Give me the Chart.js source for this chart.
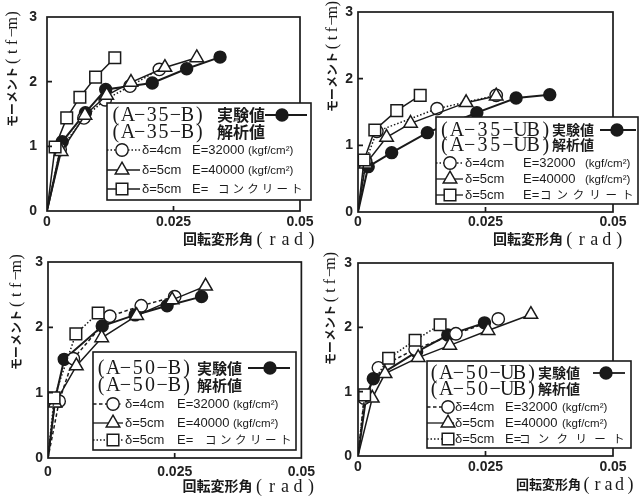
<!DOCTYPE html>
<html>
<head>
<meta charset="utf-8">
<script src="https://cdn.jsdelivr.net/npm/chart.js@4/dist/chart.umd.min.js"></script>
<style>
  html, body { margin: 0; padding: 0; background: #fff; }
  #wrap { position: relative; width: 643px; height: 496px; overflow: hidden; background: #fff; }
  #wrap canvas { position: absolute; }
</style>
</head>
<body>
<div id="wrap">
  <canvas id="c1" width="322" height="250" style="left:0;top:0"></canvas>
  <canvas id="c2" width="321" height="250" style="left:322px;top:0"></canvas>
  <canvas id="c3" width="322" height="246" style="left:0;top:250px"></canvas>
  <canvas id="c4" width="321" height="246" style="left:322px;top:250px"></canvas>
</div>
<script>
// ---- axis ticks and texts ----
const xTickValues = [0, 0.025, 0.05];
const yTickValues = [0, 1, 2, 3];
const xTitleText = ['回転変形角', '(rad)'];
const yTitleText = ['モーメント', '(tf−m)'];
const specimenNames = ['A−35−B', 'A−35−UB', 'A−50−B', 'A−50−UB'];
const seriesNames = ['実験値', '解析値'];
const caseDelta = ['δ=4cm', 'δ=5cm', 'δ=5cm'];
const caseModulus = ['E=32000', 'E=40000', 'E='];
const caseUnit = ['(kgf/cm²)', '(kgf/cm²)', 'コンクリート'];

// ---- moment vs rotation [rad, tf-m] ----
// A-35-B
const a35bExp = [[0,0],[0.0030,1.07],[0.0076,1.52],[0.0116,1.88],[0.0208,1.98],[0.0276,2.20],[0.0342,2.38]];
const a35bD4  = [[0,0],[0.0026,0.95],[0.0073,1.44],[0.0115,1.72],[0.0164,1.93],[0.0222,2.19]];
const a35bD5  = [[0,0],[0.0028,0.92],[0.0075,1.48],[0.0118,1.79],[0.0166,1.99],[0.0233,2.22],[0.0296,2.37]];
const a35bCon = [[0,0],[0.0016,0.99],[0.0039,1.44],[0.0065,1.76],[0.0096,2.07],[0.0134,2.37]];
// A-35-UB
const a35ubExp = [[0,0],[0.0020,0.68],[0.0066,0.89],[0.0136,1.19],[0.0233,1.49],[0.0310,1.71],[0.0376,1.76]];
const a35ubD4  = [[0,0],[0.0015,0.76],[0.0037,1.21],[0.0155,1.55],[0.0271,1.75]];
const a35ubD5  = [[0,0],[0.0015,0.72],[0.0056,1.12],[0.0103,1.33],[0.0212,1.64],[0.0271,1.74]];
const a35ubCon = [[0,0],[0.0012,0.78],[0.0033,1.23],[0.0076,1.52],[0.0122,1.75]];
// A-50-B
const a50bExp = [[0,0],[0.0014,0.90],[0.0032,1.51],[0.0107,2.02],[0.0172,2.19],[0.0235,2.33],[0.0303,2.47]];
const a50bD4  = [[0,0],[0.0022,0.87],[0.0050,1.52],[0.0122,2.17],[0.0184,2.33],[0.0250,2.47]];
const a50bD5  = [[0,0],[0.0014,0.84],[0.0056,1.41],[0.0106,1.84],[0.0175,2.18],[0.0245,2.42],[0.0311,2.63]];
const a50bCon = [[0,0],[0.0012,0.92],[0.0055,1.90],[0.0099,2.22]];
// A-50-UB
const a50ubExp = [[0,0],[0.0016,0.92],[0.0030,1.20],[0.0115,1.62],[0.0176,1.88],[0.0248,2.07]];
const a50ubD4  = [[0,0],[0.0012,0.90],[0.0040,1.37],[0.0112,1.66],[0.0192,1.90],[0.0275,2.13]];
const a50ubD5  = [[0,0],[0.0028,0.90],[0.0053,1.28],[0.0118,1.53],[0.0180,1.72],[0.0255,1.95],[0.0339,2.20]];
const a50ubCon = [[0,0],[0.0013,0.95],[0.0060,1.52],[0.0112,1.80],[0.0161,2.04]];

// ---- drawing styles ----
const INK = '#1a1a1a';
const CJK = '"Noto Sans CJK JP", sans-serif';
const SERIF = '"Liberation Serif", serif';
const SANS = '"Liberation Sans", Arial, sans-serif';
const DASH = { solid: [], dot: [1.5, 2], dash: [3.5, 2.5] };

// marker look of the four series: experiment, δ=4cm, δ=5cm, concrete
const seriesLook = [
  { pointStyle: 'circle',   radius: 5.8, fill: INK,    width: 1.8 },
  { pointStyle: 'circle',   radius: 6.2, fill: '#fff', width: 1.4 },
  { pointStyle: 'triangle', radius: 7.8, fill: '#fff', width: 1.5 },
  { pointStyle: 'rect',     radius: 8.2, fill: '#fff', width: 1.5 }
];

// panel layout: chart area, tick label offsets, legend geometry, title offsets
const panels = [
  { canvas: 'c1', sets: [a35bExp, a35bD4, a35bD5, a35bCon], dashes: ['solid', 'dot', 'solid', 'solid'],
    area: { left: 47, top: 11, right: 22, xh: 39 }, xPad: 4, yPad: 10,
    box: { x: 107, y: 103, w: 204, h: 97, rows: [12, 29, 47, 67, 86], headX: 3, pitch: 11.9, headFont: 20,
           cjkX: 110, cjkFont: 16, expLine: [158, 200], expMark: 175, lineEnd: 33, markX: 15,
           textX: 35, eX: 85, unitX: 141, kataX: 111, kataPitch: 14.6 },
    yTitle: { dx: -35, dy: 110, pitch: 9.5 }, xTitle: { dx: -117, dy: 28, cjk: 14, pitch: 13 } },
  { canvas: 'c2', sets: [a35ubExp, a35ubD4, a35ubD5, a35ubCon], dashes: ['solid', 'dot', 'solid', 'solid'],
    area: { left: 36, top: 12, right: 30, xh: 38 }, xPad: 3, yPad: 5,
    box: { x: 114, y: 117, w: 202, h: 87, rows: [13, 28, 46, 62, 78], headX: 2, pitch: 12.7, headFont: 20,
           cjkX: 116, cjkFont: 14, expLine: [164, 200], expMark: 181, lineEnd: 27, markX: 14,
           textX: 29, eX: 87, unitX: 149, kataX: 104, kataPitch: 16.4 },
    yTitle: { dx: -26, dy: 100, pitch: 8.6 }, xTitle: { dx: -120, dy: 27, cjk: 14, pitch: 12.5 } },
  { canvas: 'c3', sets: [a50bExp, a50bD4, a50bD5, a50bCon], dashes: ['solid', 'dash', 'solid', 'dot'],
    area: { left: 48, top: 10, right: 20, xh: 38 }, xPad: 7, yPad: 5,
    box: { x: 93, y: 102, w: 203, h: 98, rows: [16, 33, 52, 71, 88], headX: 2, pitch: 12.2, headFont: 20,
           cjkX: 104, cjkFont: 15, expLine: [155, 197], expMark: 177, lineEnd: 30, markX: 20,
           textX: 32, eX: 84, unitX: 140, kataX: 112, kataPitch: 15 },
    yTitle: { dx: -32, dy: 108, pitch: 9.5 }, xTitle: { dx: -119, dy: 28, cjk: 14, pitch: 13 } },
  { canvas: 'c4', sets: [a50ubExp, a50ubD4, a50ubD5, a50ubCon], dashes: ['solid', 'dash', 'solid', 'dot'],
    area: { left: 36, top: 8, right: 30, xh: 40 }, xPad: 4, yPad: 6,
    box: { x: 105, y: 111, w: 204, h: 87, rows: [12, 28, 46, 62, 78], headX: 1, pitch: 12.2, headFont: 20,
           cjkX: 111, cjkFont: 14, expLine: [166, 198], expMark: 179, lineEnd: 27, markX: 21,
           textX: 28, eX: 78, unitX: 135, kataX: 92, kataPitch: 18.8 },
    yTitle: { dx: -28, dy: 102, pitch: 9 }, xTitle: { dx: -97, dy: 28, cjk: 13, pitch: 11 } }
];

// draws text one glyph per fixed-width cell
function drawPitched(ctx, text, x, y, pitch) {
  ctx.textAlign = 'center';
  [...text].forEach((ch, i) => ctx.fillText(ch, x + pitch * (i + 0.5), y));
}

function drawMarker(ctx, look, x, y) {
  ctx.setLineDash([]);
  ctx.fillStyle = look.fill;
  ctx.strokeStyle = INK;
  ctx.lineWidth = look.width;
  Chart.helpers.drawPoint(ctx, { pointStyle: look.pointStyle, radius: look.radius, rotation: 0, borderWidth: look.width }, x, y);
}

function sampleLine(ctx, x1, x2, y, dash, width) {
  ctx.setLineDash(DASH[dash]);
  ctx.strokeStyle = INK;
  ctx.lineWidth = width;
  ctx.beginPath(); ctx.moveTo(x1, y); ctx.lineTo(x2, y); ctx.stroke();
}

// frame, inner ticks, legend box and axis titles
const panelDeco = {
  id: 'panelDeco',
  afterDatasetsDraw(chart, args, opts) {
    const { ctx, chartArea: a, scales: { x, y } } = chart;
    const p = opts.panel, b = p.box, name = '(' + specimenNames[opts.index] + ')';
    ctx.save();

    ctx.strokeStyle = INK; ctx.lineWidth = 1.7; ctx.setLineDash([]);
    ctx.strokeRect(a.left, a.top, a.right - a.left, a.bottom - a.top);
    ctx.beginPath();
    x.ticks.forEach(t => {
      if (t.value > x.min && t.value < x.max) {
        const px = x.getPixelForValue(t.value);
        ctx.moveTo(px, a.bottom); ctx.lineTo(px, a.bottom - 5);
      }
    });
    y.ticks.forEach(t => {
      if (t.value > y.min && t.value < y.max) {
        const py = y.getPixelForValue(t.value);
        ctx.moveTo(a.left, py); ctx.lineTo(a.left + 5, py);
      }
    });
    ctx.stroke();

    // legend
    ctx.fillStyle = '#fff';
    ctx.fillRect(b.x, b.y, b.w, b.h);
    ctx.strokeStyle = INK; ctx.lineWidth = 1.6;
    ctx.strokeRect(b.x, b.y, b.w, b.h);
    ctx.textBaseline = 'middle';
    for (let r = 0; r < 2; r++) {
      const ry = b.y + b.rows[r];
      ctx.fillStyle = INK;
      ctx.font = b.headFont + 'px ' + SERIF;
      drawPitched(ctx, name, b.x + b.headX, ry + 1, b.pitch);
      ctx.font = 'bold ' + b.cjkFont + 'px ' + CJK;
      ctx.textAlign = 'left';
      ctx.fillText(seriesNames[r], b.x + b.cjkX, ry);
    }
    const ey = b.y + b.rows[0];
    sampleLine(ctx, b.x + b.expLine[0], b.x + b.expLine[1], ey, 'solid', 1.8);
    drawMarker(ctx, seriesLook[0], b.x + b.expMark, ey);
    for (let k = 0; k < 3; k++) {
      const ry = b.y + b.rows[k + 2];
      sampleLine(ctx, b.x, b.x + b.lineEnd, ry, p.dashes[k + 1], 1.3);
      drawMarker(ctx, seriesLook[k + 1], b.x + b.markX, ry);
      ctx.fillStyle = INK;
      ctx.textAlign = 'left';
      ctx.font = '13px ' + SANS;
      ctx.fillText(caseDelta[k], b.x + b.textX, ry);
      ctx.fillText(caseModulus[k], b.x + b.eX, ry);
      if (k < 2) {
        ctx.font = '11.5px ' + SANS;
        ctx.fillText(caseUnit[k], b.x + b.unitX, ry + 1);
      } else {
        ctx.font = '11.5px ' + CJK;
        drawPitched(ctx, caseUnit[k], b.x + b.kataX - (b.kataPitch - 11.5) / 2, ry, b.kataPitch);
      }
    }

    // x title
    ctx.fillStyle = INK;
    ctx.textAlign = 'left';
    const tx = a.right + p.xTitle.dx, ty = a.bottom + p.xTitle.dy;
    ctx.font = 'bold ' + p.xTitle.cjk + 'px ' + CJK;
    ctx.fillText(xTitleText[0], tx, ty);
    ctx.font = '18px ' + SERIF;
    drawPitched(ctx, xTitleText[1], tx + 5 * p.xTitle.cjk, ty + 1, p.xTitle.pitch);

    // y title, reading upward
    ctx.translate(a.left + p.yTitle.dx, a.top + p.yTitle.dy);
    ctx.rotate(-Math.PI / 2);
    ctx.textAlign = 'left';
    ctx.font = 'bold 12px ' + CJK;
    ctx.fillText(yTitleText[0], 0, 0);
    ctx.font = '16px ' + SERIF;
    drawPitched(ctx, yTitleText[1], 61, 1, p.yTitle.pitch);

    ctx.restore();
  }
};

function buildDataset(points, i, dash) {
  const look = seriesLook[i];
  return {
    data: points.map(([vx, vy]) => ({ x: vx, y: vy })),
    showLine: true,
    borderColor: INK,
    borderWidth: i === 0 ? 2 : 1.5,
    borderDash: DASH[dash],
    pointStyle: look.pointStyle,
    pointRadius: c => c.dataIndex === 0 ? 0 : look.radius,
    pointBackgroundColor: look.fill,
    pointBorderColor: INK,
    pointBorderWidth: look.width,
    order: 3 - i
  };
}

panels.forEach((p, idx) => {
  const el = document.getElementById(p.canvas);
  const tickFont = { family: SANS, size: 14, weight: 'bold', lineHeight: 1 };
  new Chart(el, {
    type: 'scatter',
    data: { datasets: p.sets.map((s, i) => buildDataset(s, i, p.dashes[i])) },
    options: {
      responsive: false,
      animation: false,
      events: [],
      layout: { padding: { left: 0, top: p.area.top, right: p.area.right, bottom: 0 } },
      scales: {
        x: {
          type: 'linear', min: 0, max: 0.05,
          afterBuildTicks: s => { s.ticks = xTickValues.map(v => ({ value: v })); },
          afterFit: s => { s.height = p.area.xh; },
          ticks: { font: tickFont, color: '#222', padding: p.xPad, maxRotation: 0, autoSkip: false,
                   callback: v => String(v) },
          grid: { display: false, drawTicks: false },
          border: { display: false }
        },
        y: {
          type: 'linear', min: 0, max: 3,
          afterBuildTicks: s => { s.ticks = yTickValues.map(v => ({ value: v })); },
          afterFit: s => { s.width = p.area.left; },
          ticks: { font: tickFont, color: '#222', padding: p.yPad, callback: v => String(v) },
          grid: { display: false, drawTicks: false },
          border: { display: false }
        }
      },
      plugins: {
        legend: { display: false },
        tooltip: { enabled: false },
        panelDeco: { panel: p, index: idx }
      }
    },
    plugins: [panelDeco]
  });
});
</script>
</body>
</html>
